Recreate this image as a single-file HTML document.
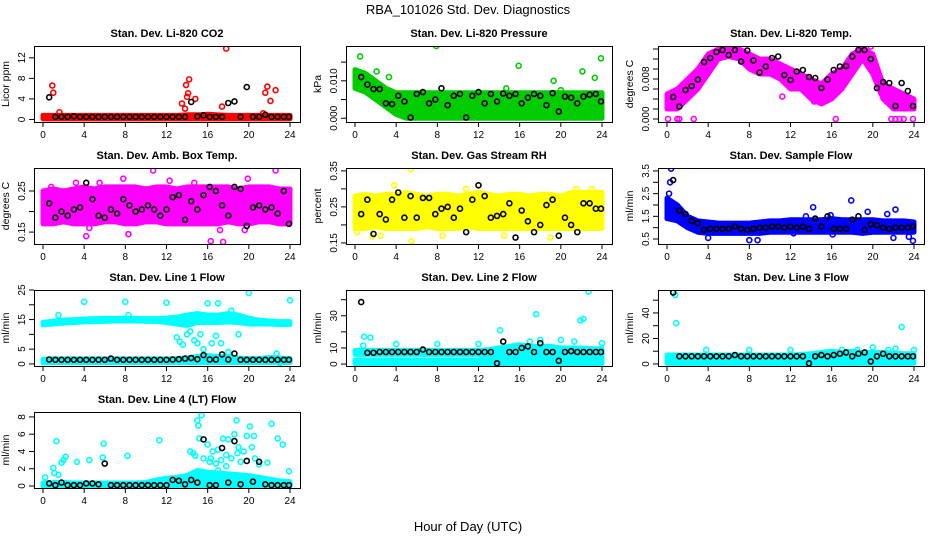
<!DOCTYPE html>
<html><head><meta charset="utf-8">
<style>
html,body{margin:0;padding:0;background:#fff;}
svg{display:block;font-family:"Liberation Sans",Arial,sans-serif;}
</style></head>
<body>
<svg id="chart" width="936" height="540" viewBox="0 0 936 540" xmlns="http://www.w3.org/2000/svg">
<rect width="936" height="540" fill="#fff"/>
<text x="468" y="14" font-size="13" text-anchor="middle">RBA_101026  Std. Dev. Diagnostics</text>
<text x="468" y="531" font-size="13" text-anchor="middle">Hour of Day (UTC)</text>
</svg>
<script>
// shared hour grid for bands
const bandHours=[0,1,2,3,4,5,6,7,8,9,10,11,12,13,14,15,16,17,18,19,20,21,22,23,24];
// shared black-observation hours
const blkX=[0.6,1.2,1.8,2.4,3.0,3.6,4.2,4.8,5.4,6.0,6.6,7.2,7.8,8.4,9.0,9.6,10.2,10.8,11.4,12.0,12.6,13.2,13.8,14.4,15.0,15.6,16.2,16.8,17.4,18.0,18.6,19.2,19.8,20.4,21.0,21.6,22.2,22.8,23.4,23.9];
const xTicks=[0,4,8,12,16,20,24];

// CO2
const co2Lo=[0.1,0.1,0.1,0.1,0.1,0.1,0.1,0.1,0.1,0.1,0.1,0.1,0.1,0.1,0.1,0.1,0.1,0.1,0.1,0.1,0.1,0.1,0.1,0.1,0.1];
const co2Hi=[0.8,0.8,0.8,0.8,0.8,0.8,0.8,0.8,0.8,0.8,0.8,0.8,0.8,0.8,0.9,0.9,1.0,0.9,0.8,0.8,0.8,0.8,0.8,0.8,0.8];
const co2Out=[[0.9,6.6],[1.0,5.2],[1.6,1.4],[13.5,3.1],[13.8,2.1],[13.9,6.7],[14.0,4.4],[14.1,5.1],[14.2,7.8],[14.8,4.0],[17.4,2.5],[17.8,13.8],[21.4,1.2],[21.6,5.2],[21.8,6.4],[22.1,3.6],[22.6,5.7]];
const co2BlkY=[4.3,0.5,0.5,0.5,0.6,0.5,0.5,0.5,0.5,0.5,0.5,0.5,0.5,0.5,0.5,0.5,0.5,0.5,0.5,0.5,0.5,0.5,0.5,3.4,0.6,0.8,0.5,0.5,0.5,3.2,3.5,0.5,6.3,0.5,0.5,0.9,0.5,0.5,0.5,0.5];
// Pressure
const presLo=[0.008,0.007,0.005,0.003,0.001,0,0,0,0,0,0,0,0,0,0,0,0,0,0,0,0,0,0,0,0];
const presHi=[0.013,0.012,0.010,0.008,0.0068,0.0068,0.0068,0.0068,0.0068,0.0068,0.0068,0.0068,0.0068,0.0068,0.0068,0.0068,0.0068,0.0068,0.0068,0.0068,0.0068,0.0068,0.0068,0.0068,0.0068];
const presOut=[[0.5,0.0165],[7.9,0.0193],[2.1,0.0125],[3.3,0.011],[15.9,0.014],[19.3,0.010],[22.1,0.0125],[23.9,0.016],[23.3,0.0108],[14.7,0.008],[20.0,0.0075]];
const presBlkY=[0.011,0.009,0.0078,0.0078,0.004,0.0038,0.006,0.0045,0.0002,0.0065,0.007,0.004,0.005,0.008,0.0035,0.006,0.0065,0.0002,0.006,0.007,0.004,0.0065,0.0045,0.0066,0.006,0.0065,0.004,0.0055,0.0065,0.006,0.0035,0.0067,0.0018,0.0058,0.0055,0.004,0.0058,0.0063,0.0065,0.0045];
// Li-820 Temp
const ltLo=[0.002,0.002,0.004,0.006,0.009,0.012,0.0125,0.012,0.010,0.009,0.009,0.008,0.006,0.006,0.004,0.003,0.004,0.006,0.009,0.012,0.009,0.004,0.002,0.002,0.002];
const ltHi=[0.005,0.006,0.008,0.010,0.013,0.014,0.014,0.014,0.013,0.012,0.012,0.011,0.010,0.009,0.008,0.007,0.009,0.010,0.013,0.014,0.013,0.007,0.006,0.005,0.004];
const ltOut=[[0.1,0],[1.0,0],[1.2,0],[2.6,0],[16.4,0],[21.8,0],[22.2,0],[22.6,0],[23.0,0],[23.9,0],[19.8,0.0145],[11.2,0.0045],[14.3,0.0035]];
const ltBlkY=[0.0044,0.0025,0.0058,0.0066,0.0079,0.0114,0.0122,0.0134,0.0138,0.0128,0.0138,0.0115,0.0137,0.0117,0.0093,0.0105,0.0122,0.0125,0.0088,0.0078,0.0095,0.0098,0.0084,0.0082,0.0062,0.0079,0.0098,0.0105,0.0106,0.0125,0.0138,0.0138,0.012,0.0062,0.0074,0.0072,0.0026,0.0072,0.0056,0.0026];
// Amb box temp
const abLo=[0.17,0.17,0.175,0.17,0.17,0.17,0.175,0.175,0.17,0.17,0.175,0.175,0.17,0.17,0.17,0.17,0.17,0.17,0.175,0.17,0.17,0.175,0.175,0.17,0.17];
const abHi=[0.25,0.255,0.25,0.255,0.26,0.255,0.26,0.26,0.26,0.26,0.255,0.26,0.26,0.255,0.26,0.26,0.26,0.26,0.26,0.255,0.26,0.26,0.26,0.255,0.255];
const abOut=[[4.2,0.14],[10.7,0.30],[16.3,0.128],[17.5,0.126],[22.6,0.30],[8.3,0.145],[4.5,0.16],[3.2,0.27],[19.9,0.28],[0.8,0.26],[14.7,0.27],[17.2,0.155],[19.6,0.155],[7.8,0.28],[12.3,0.275],[5.5,0.27]];
const abBlkY=[0.22,0.185,0.20,0.19,0.205,0.21,0.27,0.23,0.19,0.185,0.205,0.195,0.23,0.215,0.20,0.205,0.215,0.205,0.19,0.205,0.235,0.24,0.18,0.225,0.205,0.24,0.26,0.25,0.215,0.19,0.26,0.255,0.165,0.21,0.215,0.205,0.21,0.195,0.25,0.17];
// Gas stream RH
const rhLo=[0.19,0.19,0.195,0.19,0.19,0.19,0.19,0.195,0.19,0.19,0.19,0.195,0.19,0.19,0.19,0.19,0.19,0.19,0.19,0.19,0.19,0.19,0.19,0.19,0.19];
const rhHi=[0.28,0.285,0.28,0.285,0.285,0.29,0.285,0.28,0.285,0.285,0.28,0.285,0.29,0.285,0.28,0.285,0.285,0.28,0.285,0.285,0.28,0.29,0.29,0.29,0.29];
const rhOut=[[5.4,0.355],[5.5,0.155],[1.7,0.168],[0.2,0.18],[23.0,0.30],[21.5,0.30],[19.0,0.165],[14.5,0.17],[3.8,0.31],[10.8,0.30],[2.5,0.17],[8.5,0.17]];
const rhBlkY=[0.23,0.27,0.175,0.23,0.215,0.27,0.29,0.22,0.28,0.22,0.275,0.275,0.23,0.245,0.25,0.22,0.245,0.18,0.27,0.31,0.28,0.22,0.225,0.23,0.26,0.165,0.24,0.21,0.18,0.2,0.255,0.27,0.17,0.22,0.2,0.18,0.26,0.26,0.245,0.245];
// Sample flow
const sfLo=[1.4,1.3,1.0,0.8,0.75,0.75,0.75,0.75,0.75,0.75,0.8,0.8,0.8,0.8,0.8,0.8,0.8,0.8,0.8,0.75,0.8,0.8,0.8,0.8,0.8];
const sfHi=[2.3,2.0,1.5,1.3,1.25,1.2,1.2,1.2,1.2,1.25,1.3,1.3,1.35,1.35,1.35,1.35,1.4,1.35,1.35,1.35,1.35,1.3,1.3,1.3,1.25];
const sfOut=[[0.4,3.6],[0.3,3.0],[0.2,2.5],[4.0,0.55],[8.0,0.45],[8.8,0.45],[17.9,2.2],[14.2,1.9],[22.2,1.8],[22.0,0.55],[23.5,0.6],[23.9,0.42],[12.3,0.75],[15.9,1.55],[19.5,1.7],[21.4,1.6],[13.5,1.5],[16.1,0.7]];
const sfBlkY=[3.1,1.75,1.6,1.3,1.2,0.9,0.95,0.95,0.95,0.95,1.05,0.95,0.9,0.95,1.0,1.0,1.05,1.05,1.0,1.05,1.0,1.05,0.95,1.4,1.05,1.5,0.95,0.95,0.95,1.35,1.5,0.9,1.15,1.1,1.0,0.95,1.0,1.0,1.0,1.05];
// Line 1 flow (two bands)
const l1UpLo=[13.2,13.5,13.8,14.0,14.2,14.3,14.4,14.5,14.5,14.5,14.4,14.4,14.0,13.5,13.0,14.0,14.0,14.0,14.2,14.0,13.5,13.5,13.5,13.3,13.3];
const l1UpHi=[14.0,14.5,14.8,15.0,15.2,15.3,15.4,15.4,15.4,15.4,15.3,15.3,15.5,15.8,16.5,17.0,16.5,16.5,17.0,16.5,15.5,14.8,14.5,14.3,14.3];
const l1DnLo=[0.4,0.5,0.5,0.5,0.5,0.5,0.5,0.5,0.5,0.5,0.5,0.5,0.5,0.5,0.5,0.5,0.5,0.5,0.5,0.5,0.5,0.5,0.5,0.5,0.5];
const l1DnHi=[1.6,1.7,1.7,1.7,1.7,1.7,1.7,1.7,1.7,1.7,1.7,1.7,1.7,1.8,2.0,2.5,2.8,2.5,2.5,2.0,1.8,1.8,2.2,2.0,1.8];
const l1Out=[[4,21],[8,21],[12,20.7],[16,20.5],[17,20.5],[20,24],[24,21.5],[1.5,16.5],[13,9],[13.3,7.5],[13.6,6.5],[14,10],[14.3,11],[14.7,8],[15,7],[15.3,10],[15.6,5],[16.4,7],[16.8,9.5],[17.3,7],[18.3,18],[19,10],[18,4],[22.7,3.5],[23,0.2],[8.3,16.5],[14.5,16.5]];
const l1BlkY=[1.5,1.4,1.4,1.4,1.4,1.4,1.4,1.4,1.4,1.4,1.8,1.4,1.4,1.4,1.4,1.4,1.4,1.4,1.4,1.4,1.5,1.6,1.8,2.0,1.6,3.0,1.5,1.5,3.2,1.5,3.5,1.4,1.4,1.4,1.4,1.4,1.4,1.4,1.4,1.4];
// Line 2 flow
const l2UpLo=[6,6,6,6,6,6,6,6,6,6,6,6,6,3,1,1,1,1,1,1,1,1,1,1,1];
const l2UpHi=[8.5,8.5,8.5,8.5,8.5,8.5,8.5,8.5,8.5,8.5,8.5,8.5,8.5,9,10,11,12,11,11,11,10,10,10,9.5,9.5];
const l2DnLo=[0.3,0.3,0.3,0.3,0.3,0.3,0.3,0.3,0.3,0.3,0.3,0.3,0.3,0.3,0.3,0.3,0.3,0.3,0.3,0.3,0.3,0.3,0.3,0.3,0.3];
const l2DnHi=[2.5,2.5,2.5,2.5,2.5,2.5,2.5,2.5,2.5,2.5,2.5,2.5,2.5,2.5,2.5,2.5,2.5,2.5,2.5,2.5,2.5,2.5,2.5,2.5,2.5];
const l2Out=[[0.9,17],[1.5,16.5],[0.8,11.5],[4,12.5],[8,12.5],[12,12.5],[14.1,21],[17.6,31],[20,15],[21.3,14],[21.9,27],[22.2,28],[22.7,45],[24,13],[17,14],[18,15]];
const l2BlkY=[38.5,7,7,7.5,7.5,7.5,7.5,7.5,7.5,7.5,9,7.5,7.5,7.5,7.5,7.5,7.5,7.5,7.5,7.5,7.5,7.5,0.5,14,7.5,7.5,10,11,7.5,13,7.5,7.5,2,7.5,8,7.5,7.5,7.5,7.5,7.5];
// Line 3 flow
const l3Lo=[0.5,0.5,0.5,0.5,0.5,0.5,0.5,0.5,0.5,0.5,0.5,0.5,0.5,0.5,0.5,0.5,0.5,0.5,0.5,0.5,0.5,0.5,0.5,0.5,0.5];
const l3Hi=[7,7,7,7,7,7,7,7,7,7,7,7,7,7.5,8,9,10,9,10,9,9,9,8.5,8,8];
const l3Out=[[0.8,54],[0.9,32],[3.8,11],[8,11],[12,11],[22.8,29],[24,11],[22.2,12],[20,13],[17,11],[21.5,11],[18.5,11]];
const l3BlkY=[56,6,6,6,6,6,6,6,6,6,7,6,6,6,6,6,6,6,6,6,6,6,0.5,6,7,6,7,8,9,6,8,9,2,6,8,6,6,6,6,6];
// Line 4 flow
const l4Lo=[0,0,0,0,0,0,0,0,0,0,0,0,0,0,0,0,0,0,0,0,0,0,0,0,0];
const l4Hi=[0.35,0.4,0.4,0.35,0.35,0.35,0.35,0.35,0.35,0.35,0.4,0.7,0.9,1.0,1.2,1.8,1.6,1.5,1.4,1.3,1.2,1.0,0.8,0.6,0.5];
const l4Out=[[0.2,1],[1.0,2.1],[1.1,1.5],[1.3,5.2],[1.5,1.3],[1.8,2.7],[2.0,3.0],[2.2,3.4],[3.3,2.8],[4.5,3.0],[5.8,3.3],[5.9,4.9],[8.2,3.5],[11.3,5.3],[14.3,4],[14.6,3.8],[15.0,7.6],[15.1,7.0],[15.4,8.2],[15.2,5.5],[15.6,3.2],[16.0,4.8],[16.5,4.0],[16.3,3.2],[16.8,2.6],[17.0,4.2],[17.3,3.0],[17.5,5.5],[17.8,2.3],[18.0,5.4],[18.3,3.2],[18.6,6],[18.8,7.6],[19.0,4.5],[19.2,2.8],[19.5,4],[19.8,5.8],[20.1,6.9],[20.5,5.8],[20.6,3.2],[21,2.5],[21.8,2.7],[22.2,7.2],[22.8,5.5],[23.3,4.8],[23.9,1.7],[15.8,1.5],[17.0,1.8],[19.5,1.0],[16.2,2.8],[18.9,3.8],[20.3,4.5],[14.8,3.5],[17.8,3.6]];
const l4BlkY=[0.3,0.1,0.4,0.1,0.1,0.1,0.3,0.3,0.2,2.6,0.1,0.1,0.1,0.1,0.1,0.1,0.1,0.1,0.1,0.1,0.7,0.6,0.2,0.7,0.4,5.4,0.1,0.1,4.4,0.4,5.2,0.2,2.9,0.5,2.8,0.2,0.1,0.1,0.1,0.1];

const NS="http://www.w3.org/2000/svg";
const svg=document.getElementById('chart');
function mk(tag,attrs,parent){const e=document.createElementNS(NS,tag);for(const k in attrs)e.setAttribute(k,attrs[k]);(parent||svg).appendChild(e);return e;}

const colLeft=[34,346,658], rowTop=[46,168,290,412], W=266, H=76;
const panels=[
 {name:'co2',title:'Stan. Dev. Li-820 CO2',yl:'Licor ppm',col:0,row:0,dom:[-0.5,14.3],ticks:[0,4,8,12],labels:['0','4','8','12'],color:'#ff0000',bands:[[co2Lo,co2Hi]],out:co2Out,blk:co2BlkY},
 {name:'pressure',title:'Stan. Dev. Li-820 Pressure',yl:'kPa',col:1,row:0,dom:[-0.001,0.0193],ticks:[0,0.005,0.010,0.015],labels:['0.000','','0.010',''],color:'#00cc00',bands:[[presLo,presHi]],out:presOut,blk:presBlkY},
 {name:'li820-temp',title:'Stan. Dev. Li-820 Temp.',yl:'degrees C',col:2,row:0,dom:[-0.0006,0.0146],ticks:[0,0.002,0.004,0.006,0.008,0.010,0.012,0.014],labels:['0.000','','','','0.008','','',''],color:'#ff00ff',bands:[[ltLo,ltHi]],out:ltOut,blk:ltBlkY},
 {name:'amb-box-temp',title:'Stan. Dev. Amb. Box Temp.',yl:'degrees C',col:0,row:1,dom:[0.121,0.306],ticks:[0.15,0.20,0.25],labels:['0.15','','0.25'],color:'#ff00ff',bands:[[abLo,abHi]],out:abOut,blk:abBlkY},
 {name:'gas-stream-rh',title:'Stan. Dev. Gas Stream RH',yl:'percent',col:1,row:1,dom:[0.147,0.358],ticks:[0.15,0.20,0.25,0.30,0.35],labels:['0.15','','0.25','','0.35'],color:'#ffff00',bands:[[rhLo,rhHi]],out:rhOut,blk:rhBlkY},
 {name:'sample-flow',title:'Stan. Dev. Sample Flow',yl:'ml/min',col:2,row:1,dom:[0.28,3.63],ticks:[0.5,1,1.5,2,2.5,3,3.5],labels:['0.5','','1.5','','2.5','','3.5'],color:'#0000ff',bands:[[sfLo,sfHi]],out:sfOut,blk:sfBlkY},
 {name:'line1-flow',title:'Stan. Dev. Line 1 Flow',yl:'ml/min',col:0,row:2,dom:[-0.7,25],ticks:[0,5,10,15,20,25],labels:['0','5','','15','','25'],color:'#00ffff',bands:[[l1UpLo,l1UpHi],[l1DnLo,l1DnHi]],out:l1Out,blk:l1BlkY},
 {name:'line2-flow',title:'Stan. Dev. Line 2 Flow',yl:'ml/min',col:1,row:2,dom:[-1.2,46],ticks:[0,10,20,30,40],labels:['0','10','','30',''],color:'#00ffff',bands:[[l2UpLo,l2UpHi],[l2DnLo,l2DnHi]],out:l2Out,blk:l2BlkY},
 {name:'line3-flow',title:'Stan. Dev. Line 3 Flow',yl:'ml/min',col:2,row:2,dom:[-1.6,58],ticks:[0,10,20,30,40,50],labels:['0','','20','','40',''],color:'#00ffff',bands:[[l3Lo,l3Hi]],out:l3Out,blk:l3BlkY},
 {name:'line4-flow',title:'Stan. Dev. Line 4 (LT) Flow',yl:'ml/min',col:0,row:3,dom:[-0.23,8.57],ticks:[0,2,4,6,8],labels:['0','2','4','6','8'],color:'#00ffff',bands:[[l4Lo,l4Hi]],out:l4Out,blk:l4BlkY}
];

panels.forEach(p=>{
 const L=colLeft[p.col], T=rowTop[p.row];
 const xs=v=>L+9+v*(247/24);
 const ys=v=>T+H-(v-p.dom[0])/(p.dom[1]-p.dom[0])*H;
 const g=mk('g',{});
 
 
 const t=mk('text',{x:L+W/2,y:T-9,'font-size':11,'font-weight':'bold','text-anchor':'middle'},g);
 t.textContent=p.title;
 
 
 const yt=mk('text',{x:0,y:0,'font-size':10.5,'text-anchor':'middle',transform:`translate(${L-25},${T+H/2}) rotate(-90)`},g);
 yt.textContent=p.yl;
 
 
 const clip='clip-'+p.name;
 const cp=mk('clipPath',{id:clip},g); mk('rect',{x:L,y:T,width:W,height:H},cp);
 const plot=mk('g',{'clip-path':`url(#${clip})`},g);
 
 
 p.bands.forEach(b=>{
  let d='';
  bandHours.forEach((h,i)=>{d+=(i?'L':'M')+xs(h)+','+ys(b[1][i]);});
  for(let i=bandHours.length-1;i>=0;i--) d+='L'+xs(bandHours[i])+','+ys(b[0][i]);
  const band=mk('path',{d:d+'Z',fill:p.color,stroke:p.color,'stroke-width':5,'stroke-linejoin':'round'},plot);
  
  
 });
 p.out.forEach(o=>{
  const c=mk('circle',{cx:xs(o[0]),cy:ys(o[1]),r:2.5,fill:'none',stroke:p.color,'stroke-width':1.6},plot);
  
  
 });
 p.blk.forEach((v,i)=>{
  const c=mk('circle',{cx:xs(blkX[i]),cy:ys(v),r:2.5,fill:'none',stroke:'#000','stroke-width':1.6},plot);
  
  
 });
 const box=mk('rect',{x:L+0.5,y:T+0.5,width:W,height:H,fill:'none',stroke:'#000','stroke-width':1},g);
 
 
 // x axis
 mk('line',{x1:xs(0),x2:xs(24),y1:T+H+0.5,y2:T+H+0.5,stroke:'#000'},g);
 xTicks.forEach(v=>{
  mk('line',{x1:xs(v),x2:xs(v),y1:T+H,y2:T+H+5,stroke:'#000'},g);
  const tl=mk('text',{x:xs(v),y:T+H+16,'font-size':10,'text-anchor':'middle'},g);
  tl.textContent=v;
  
  
 });
 // y axis
 mk('line',{x1:L+0.5,x2:L+0.5,y1:ys(p.ticks[0]),y2:ys(p.ticks[p.ticks.length-1]),stroke:'#000'},g);
 p.ticks.forEach((v,i)=>{
  mk('line',{x1:L-5,x2:L,y1:ys(v),y2:ys(v),stroke:'#000'},g);
  if(p.labels[i]){
   const tl=mk('text',{x:0,y:0,'font-size':10,'text-anchor':'middle',transform:`translate(${L-9},${ys(v)}) rotate(-90)`},g);
   tl.textContent=p.labels[i];
   
   
  }
 });
});
</script>
</body></html>
